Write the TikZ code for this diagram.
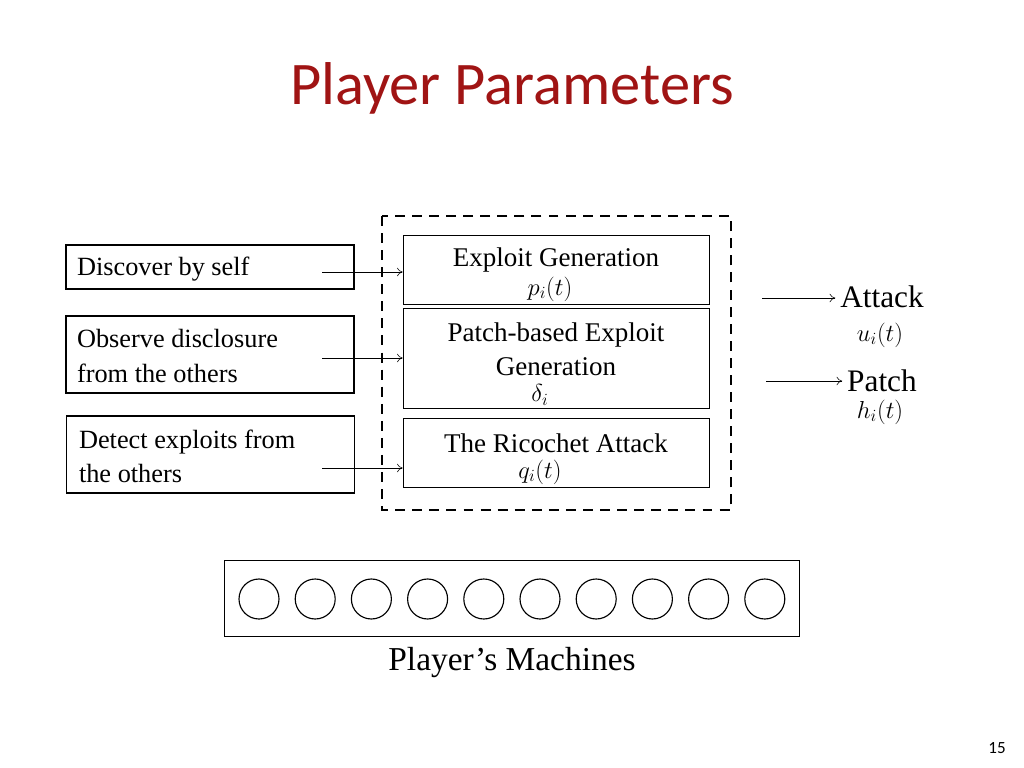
\documentclass[tikz,border=0pt]{standalone}
\usepackage{fontspec}
\setmainfont{Liberation Serif}
\newfontfamily\titlefont{Carlito}
\usetikzlibrary{positioning,arrows.meta}
\definecolor{titlered}{RGB}{160,20,20}
\begin{document}
\begin{tikzpicture}[x=0.703pt,y=-0.703pt]
  \tikzset{srcbox/.style = {draw,thick,minimum width=288*0.703pt,inner sep=0pt}}
  \tikzset{genbox/.style = {draw,minimum width=306*0.703pt,inner sep=0pt}}
  \tikzset{edge/.style = {-{To[length=4pt,width=6pt]}}}
  \tikzset{machine/.style = {shape=circle,draw,thick,minimum size=40*0.703pt,inner sep=0pt}}
  \useasboundingbox (0,0) rectangle (1024,768);

  \node[font=\titlefont\fontsize{42.5}{50}\selectfont,text=titlered] (title) at (512,88) {Player Parameters};

  % dashed frame
  \draw[very thick,dash pattern=on 7pt off 5pt] (382,216) rectangle (731,510);

  % generation boxes
  \node[genbox,minimum height=69*0.703pt] (gen) at (556,269.5) {};
  \node[genbox,minimum height=100*0.703pt] (pbe) at (556,358) {};
  \node[genbox,minimum height=69*0.703pt] (ric) at (556,452.5) {};
  \node[font=\fontsize{19}{22}\selectfont] at (556,260) {Exploit Generation};
  \node[font=\fontsize{19}{24}\selectfont,align=center] at (556,349) {Patch-based Exploit\\Generation};
  \node[font=\fontsize{19}{22}\selectfont] at (556,443) {The Ricochet Attack};
  \node[font=\fontsize{17}{18}\selectfont] at (550,289) {$p_i(t)$};
  \node[font=\fontsize{17}{18}\selectfont] at (540,395) {$\delta_i$};
  \node[font=\fontsize{17}{18}\selectfont] at (540,472) {$q_i(t)$};

  % sources
  \node[srcbox,minimum height=44*0.703pt] (self) at (210,267) {};
  \node[srcbox,minimum height=77*0.703pt] (obs) at (210,354.5) {};
  \node[srcbox,minimum height=77*0.703pt] (det) at (210.5,454.5) {};
  \node[font=\fontsize{18.5}{24}\selectfont,anchor=west] at (72,269) {Discover by self};
  \node[font=\fontsize{18.5}{24}\selectfont,anchor=west,align=left] at (72,356) {Observe disclosure\\from the others};
  \node[font=\fontsize{18.5}{24}\selectfont,anchor=west,align=left] at (74,456) {Detect exploits from\\the others};
  \coordinate (s1) at (322,272);
  \coordinate (s2) at (322,358);
  \coordinate (s3) at (322,468);
  \draw[edge] (s1) -- (gen.west |- s1);
  \draw[edge] (s2) -- (pbe.west |- s2);
  \draw[edge] (s3) -- (ric.west |- s3);

  % outputs
  \node[font=\fontsize{22}{24}\selectfont] (attack) at (882,297) {Attack};
  \node[font=\fontsize{17}{18}\selectfont] (u) at (880,335) {$u_i(t)$};
  \node[font=\fontsize{22}{24}\selectfont] (patch) at (882,381) {Patch};
  \node[font=\fontsize{17}{18}\selectfont] (h) at (880,412) {$h_i(t)$};
  \coordinate (a0) at (762,298);
  \coordinate (p0) at (766,381);
  \draw[edge] (a0) -- (attack.west |- a0);
  \draw[edge] (p0) -- (patch.west |- p0);

  % machines
  \node[draw,minimum width=575*0.703pt,minimum height=76*0.703pt,inner sep=0pt] (pool) at (511.5,598) {};
  \foreach \i in {0,...,9}
    \node[machine] (m\i) at (259+56.2*\i,599) {};
  \node[font=\fontsize{23.5}{26}\selectfont] (pm) at (512,663) {Player’s Machines};

  \node[font=\titlefont\fontsize{12}{14}\selectfont] (num) at (997,748) {15};
\end{tikzpicture}
\end{document}
